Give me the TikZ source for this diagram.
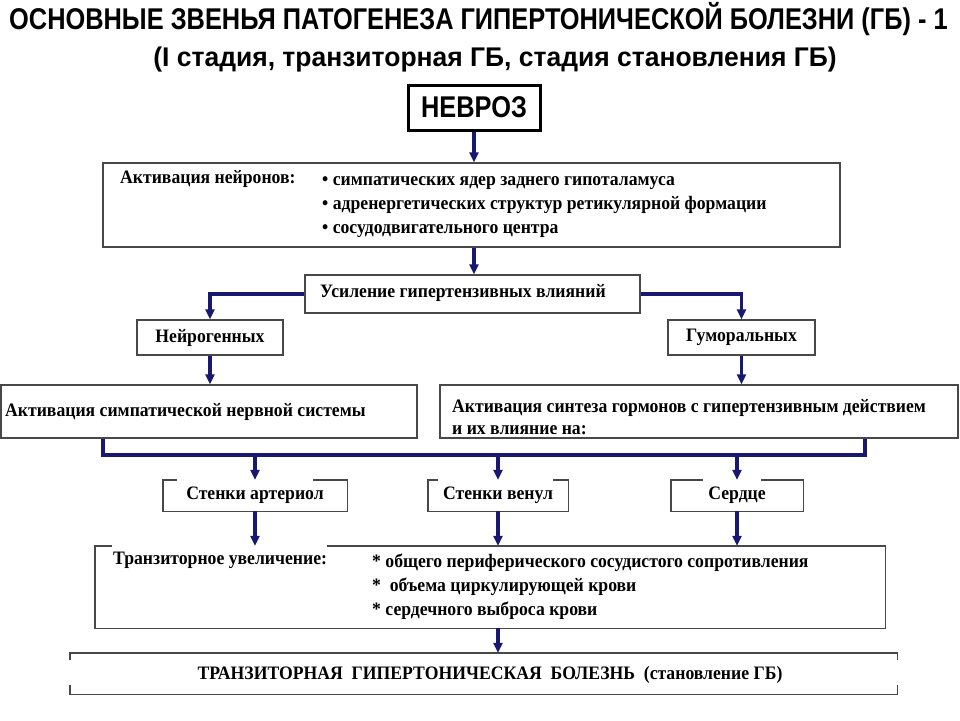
\documentclass[tikz,border=0pt]{standalone}
\usepackage{fontspec}
\setmainfont{Liberation Serif}
\newfontfamily\headfont[FakeStretch=0.846]{Liberation Sans}
\newfontfamily\subfont[FakeStretch=0.98]{Liberation Sans}
\newfontfamily\bodyfont[FakeStretch=0.93]{Liberation Serif}
\usetikzlibrary{arrows.meta}
\definecolor{linkblue}{RGB}{24,24,112}
\definecolor{framegray}{RGB}{72,72,72}
\tikzset{
  box/.style={draw=framegray, line width=1.4pt, inner sep=0pt},
  hollow/.style={inner sep=0pt},
  frame/.style={draw=framegray, line width=1.4pt},
  link/.style={draw=linkblue, line width=3.4pt, -{Triangle[width=9pt,length=10pt]}},
  bus/.style={draw=linkblue, line width=3.4pt},
  body/.style={font=\bodyfont\bfseries\fontsize{19}{24}\selectfont},
  lbl/.style={body, inner sep=0pt, anchor=west, align=left},
}

\begin{document}
\begin{tikzpicture}[x=1pt, y=-1pt]
  \useasboundingbox (0,0) rectangle (960,720);
  % titles
  \node[anchor=west, inner sep=0pt, font=\headfont\bfseries\fontsize{30}{36}\selectfont] (title) at (9,19) {ОСНОВНЫЕ ЗВЕНЬЯ ПАТОГЕНЕЗА ГИПЕРТОНИЧЕСКОЙ БОЛЕЗНИ (ГБ) - 1};
  \node[inner sep=0pt, font=\subfont\bfseries\fontsize{27}{32}\selectfont] (subtitle) at (495,60) {(I стадия, транзиторная ГБ, стадия становления ГБ)};

  % boxes
  \node[box, draw=black, line width=3pt, minimum width=132pt, minimum height=45pt, font=\headfont\bfseries\fontsize{30}{36}\selectfont] (nevroz) at (474,107.5) {НЕВРОЗ};
  \node[box, minimum width=737pt, minimum height=84pt] (neuro) at (471.5,205) {};
  \node[lbl] (neurolbl) at (120,179) {Активация нейронов:};
  \node[lbl] (neurolist) at (322,207) {• симпатических ядер заднего гипоталамуса\\• адренергетических структур ретикулярной формации\\• сосудодвигательного центра};
  \node[box, minimum width=335pt, minimum height=38pt] (boost) at (472.5,294) {};
  \node[lbl] (boostlbl) at (320,293) {Усиление гипертензивных влияний};
  \node[box, body, minimum width=146pt, minimum height=35pt] (neurogen) at (210,337.5) {Нейрогенных};
  \node[box, body, minimum width=147pt, minimum height=35pt] (humoral) at (741.5,337.5) {Гуморальных};
  \node[box, minimum width=416pt, minimum height=53pt] (sympath) at (209,411.5) {};
  \node[lbl] (sympathlbl) at (5,412) {Активация симпатической нервной системы};
  \node[box, minimum width=518pt, minimum height=53pt] (synth) at (699,411.5) {};
  \node[lbl, font=\bodyfont\bfseries\fontsize{19}{22}\selectfont] (synthlbl) at (452,417) {Активация синтеза гормонов с гипертензивным действием\\и их влияние на:};
  \node[hollow, body, minimum width=184pt, minimum height=31pt] (arter) at (255,495.5) {Стенки артериол};
  \node[hollow, body, minimum width=140pt, minimum height=31pt] (venul) at (498,495.5) {Стенки венул};
  \node[hollow, body, minimum width=132pt, minimum height=31pt] (heart) at (737,495.5) {Сердце};
  \node[hollow, minimum width=790pt, minimum height=82pt] (trans) at (490,587) {};
  \node[lbl] (translbl) at (113,560) {Транзиторное увеличение:};
  \node[lbl] (translist) at (372,587) {* общего периферического сосудистого сопротивления\\*\ \ объема циркулирующей крови\\* сердечного выброса крови};
  \node[hollow, minimum width=827pt, minimum height=41pt] (final) at (483.5,673.5) {};
  \node[hollow, body] (finallbl) at (490,675) {ТРАНЗИТОРНАЯ\ \ ГИПЕРТОНИЧЕСКАЯ\ \ БОЛЕЗНЬ\ \ (становление ГБ)};

  % broken frames
  \draw[frame] ([xshift=14pt]arter.north west) -- (arter.north west) -- (arter.south west) -- (arter.south east) -- (arter.north east) -- ([xshift=-34pt]arter.north east);
  \draw[frame] ([xshift=10pt]venul.north west) -- (venul.north west) -- (venul.south west) -- (venul.south east) -- (venul.north east) -- ([xshift=-15pt]venul.north east);
  \draw[frame] ([xshift=32pt]heart.north west) -- (heart.north west) -- (heart.south west) -- (heart.south east) -- (heart.north east) -- ([xshift=-42pt]heart.north east);
  \draw[frame] ([xshift=17pt]trans.north west) -- (trans.north west) -- (trans.south west) -- (trans.south east) -- (trans.north east) -- ([xshift=-558pt]trans.north east);
  \draw[frame] ([yshift=-7pt]final.north west) -- (final.north west) -- (final.north east) -- ([yshift=-7pt]final.north east);
  \draw[frame] ([yshift=9pt]final.south west) -- (final.south west) -- (final.south east) -- ([yshift=9pt]final.south east);

  % connectors
  \coordinate (busL) at (103,455);
  \coordinate (busR) at (865,455);
  \draw[link] (nevroz.south) -- (nevroz.south |- neuro.north);
  \draw[link] (nevroz.south |- neuro.south) -- (nevroz.south |- boost.north);
  \draw[link] (boost.west) -| (neurogen.north);
  \draw[link] (boost.east) -| (humoral.north);
  \draw[link] (neurogen.south) -- (neurogen.south |- sympath.north);
  \draw[link] (humoral.south) -- (humoral.south |- synth.north);
  \draw[bus] (sympath.south -| busL) -- (busL) -- (busR) -- (synth.south -| busR);
  \draw[link] (busL -| arter) -- (arter.north);
  \draw[link] (busL -| venul) -- (venul.north);
  \draw[link] (busL -| heart) -- (heart.north);
  \draw[link] (arter.south) -- (arter.south |- trans.north);
  \draw[link] (venul.south) -- (venul.south |- trans.north);
  \draw[link] (heart.south) -- (heart.south |- trans.north);
  \draw[link] (venul |- trans.south) -- (venul |- final.north);
\end{tikzpicture}
\end{document}
